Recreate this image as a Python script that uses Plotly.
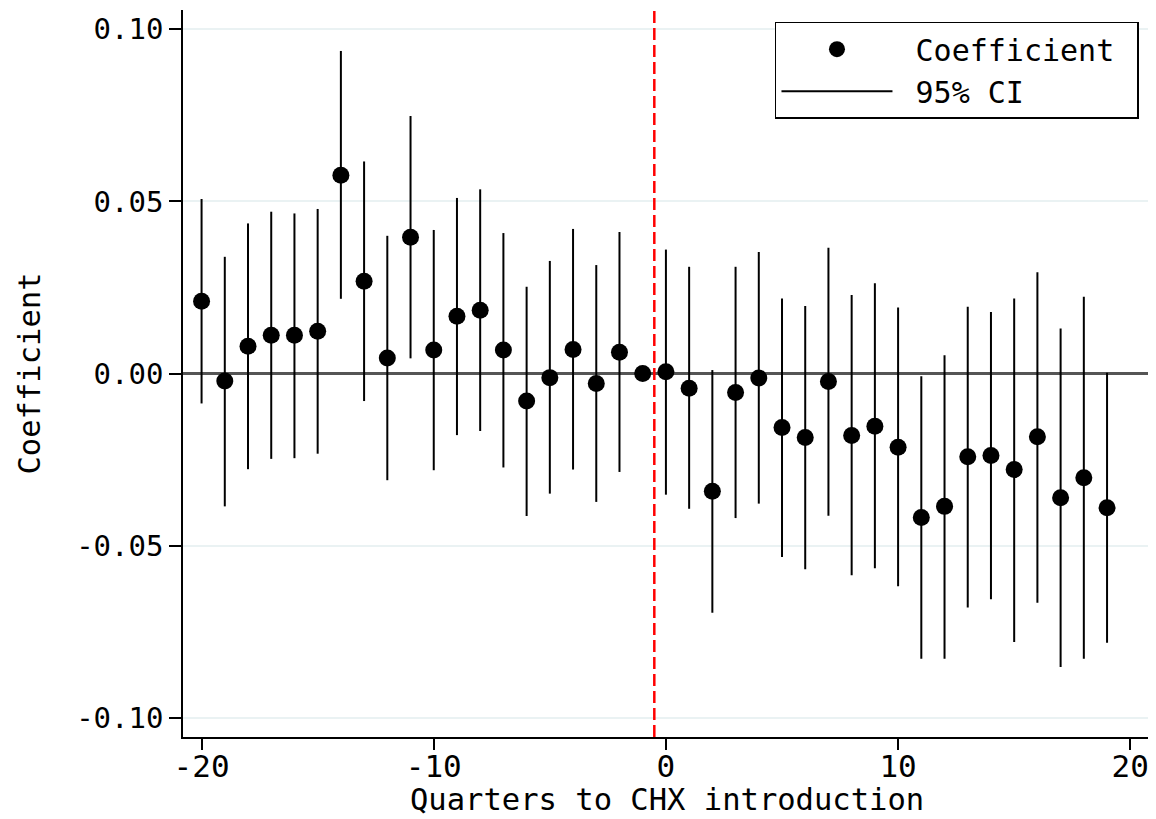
import plotly.graph_objects as go

# event-study estimates
quarters = [-20, -19, -18, -17, -16, -15, -14, -13, -12, -11,
            -10, -9, -8, -7, -6, -5, -4, -3, -2, -1,
            0, 1, 2, 3, 4, 5, 6, 7, 8, 9,
            10, 11, 12, 13, 14, 15, 16, 17, 18, 19]
coef = [0.0210, -0.0022, 0.0079, 0.0111, 0.0111, 0.0123, 0.0576, 0.0268, 0.0045, 0.0396,
        0.0068, 0.0166, 0.0184, 0.0068, -0.0080, -0.0012, 0.0070, -0.0029, 0.0062, 0.0,
        0.0005, -0.0043, -0.0342, -0.0055, -0.0013, -0.0157, -0.0186, -0.0023, -0.0180, -0.0153,
        -0.0214, -0.0418, -0.0386, -0.0242, -0.0238, -0.0279, -0.0184, -0.0361, -0.0303, -0.0390]
ci_lo = [-0.0087, -0.0386, -0.0278, -0.0248, -0.0246, -0.0233, 0.0217, -0.0080, -0.0310, 0.0044,
         -0.0281, -0.0179, -0.0167, -0.0273, -0.0414, -0.0349, -0.0279, -0.0373, -0.0286, None,
         -0.0352, -0.0393, -0.0695, -0.0420, -0.0378, -0.0533, -0.0569, -0.0413, -0.0586, -0.0566,
         -0.0618, -0.0829, -0.0829, -0.0680, -0.0656, -0.0780, -0.0666, -0.0853, -0.0829, -0.0782]
ci_hi = [0.0507, 0.0339, 0.0436, 0.0470, 0.0465, 0.0478, 0.0937, 0.0616, 0.0400, 0.0748,
         0.0417, 0.0510, 0.0535, 0.0408, 0.0252, 0.0327, 0.0420, 0.0315, 0.0411, None,
         0.0360, 0.0310, 0.0010, 0.0310, 0.0353, 0.0218, 0.0196, 0.0365, 0.0228, 0.0262,
         0.0192, -0.0008, 0.0053, 0.0194, 0.0179, 0.0218, 0.0294, 0.0131, 0.0223, 0.0002]

y_ticks = [-0.10, -0.05, 0.00, 0.05, 0.10]
y_ticktext = ['-0.10', '-0.05', '0.00', '0.05', '0.10']
x_ticks = [-20, -10, 0, 10, 20]
x_ticktext = ['-20', '-10', '0', '10', '20']

FONT = 'DejaVu Sans Mono'
NB = '\u00a0'

# CI segments as one line trace with gaps
ci_x, ci_y = [], []
for q, lo, hi in zip(quarters, ci_lo, ci_hi):
    if lo is None:
        continue
    ci_x += [q, q, None]
    ci_y += [lo, hi, None]

fig = go.Figure()
fig.add_trace(go.Scatter(x=ci_x, y=ci_y, mode='lines', name=NB + '95% CI', legendrank=2,
                         line=dict(color='black', width=2)))
fig.add_trace(go.Scatter(x=quarters, y=coef, mode='markers', name=NB + 'Coefficient' + NB, legendrank=1,
                         marker=dict(color='black', size=17)))

fig.add_shape(type='line', x0=-0.5, x1=-0.5, y0=0, y1=1, xref='x', yref='paper',
              line=dict(color='#ff0000', width=2.5, dash='12px,5px'), layer='above')

# axis titles as annotations so they sit where the reference has them
fig.add_annotation(text='Quarters to CHX introduction', x=0.5, y=0, xref='paper', yref='paper',
                   xanchor='center', yanchor='middle', yshift=-62, showarrow=False,
                   font=dict(family=FONT, size=30.5))
fig.add_annotation(text='Coefficient', x=0, y=0.5, xref='paper', yref='paper', textangle=-90,
                   xanchor='center', yanchor='middle', xshift=-154, showarrow=False,
                   font=dict(family=FONT, size=30.5))

# page body has an 8px margin, so the figure is 8px smaller
fig.update_layout(
    width=1148, height=811,
    margin=dict(l=175, r=6, t=2, b=82),
    paper_bgcolor='white', plot_bgcolor='white',
    font=dict(family=FONT, size=29, color='black'),
    showlegend=True,
    legend=dict(x=0.9886, y=0.984, xanchor='right', yanchor='top',
                bordercolor='black', borderwidth=1.5, bgcolor='white',
                itemwidth=111, font=dict(family=FONT, size=30),
                tracegroupgap=0),
)
fig.update_xaxes(range=[-20.8, 20.85], tickvals=x_ticks, ticktext=x_ticktext,
                 automargin=False, tickfont=dict(size=31), ticklabelstandoff=-10,
                 showgrid=False, zeroline=False,
                 showline=True, linecolor='black', linewidth=1.5,
                 ticks='outside', ticklen=11, tickwidth=1.5, tickcolor='black')
fig.update_yaxes(range=[-0.1056, 0.1056], tickvals=y_ticks, ticktext=y_ticktext,
                 automargin=False,
                 showgrid=True, gridcolor='#eaf2f3', gridwidth=2,
                 zeroline=True, zerolinecolor='#555555', zerolinewidth=2.5,
                 showline=True, linecolor='black', linewidth=1.5,
                 ticks='outside', ticklen=12, tickwidth=1.5, tickcolor='black')

fig.write_html("out.html")
